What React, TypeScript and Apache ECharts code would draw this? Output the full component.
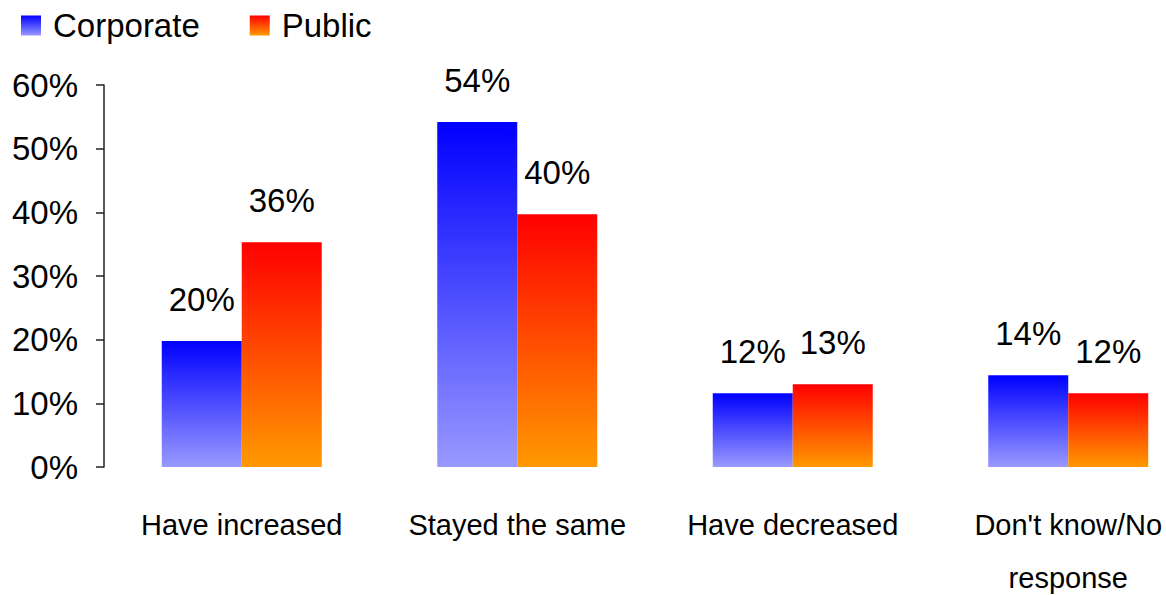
import React, { useEffect, useRef } from "react";
import * as echarts from "echarts";

const categories = ["Have increased", "Stayed the same", "Have decreased", "Don't know/No\nresponse"];
const seriesNames = ["Corporate", "Public"];
const corporateValues = [19.8, 54.2, 11.6, 14.4];
const publicValues = [35.3, 39.7, 13.0, 11.6];
const corporateLabels = ["20%", "54%", "12%", "14%"];
const publicLabels = ["36%", "40%", "13%", "12%"];
const yTicks = [0, 10, 20, 30, 40, 50, 60];

const FONT = "'Liberation Sans', Arial, Helvetica, sans-serif";

export default function App() {
  const ref = useRef<HTMLDivElement>(null);
  useEffect(() => {
    if (!ref.current) return;
    const chart = echarts.init(ref.current, undefined, { renderer: "svg" });
    const blueGrad = new echarts.graphic.LinearGradient(0, 0, 0, 1, [
      { offset: 0, color: "#0000FF" },
      { offset: 1, color: "#9999FF" },
    ]);
    const redGrad = new echarts.graphic.LinearGradient(0, 0, 0, 1, [
      { offset: 0, color: "#FF0000" },
      { offset: 1, color: "#FF9900" },
    ]);
    const labelStyle = {
      show: true,
      position: "top" as const,
      distance: 25,
      color: "#000",
      fontFamily: FONT,
      fontSize: 33,
      lineHeight: 33,
    };
    chart.setOption({
      animation: false,
      backgroundColor: "#fff",
      legend: {
        left: 21,
        top: 9,
        padding: 0,
        itemWidth: 20,
        itemHeight: 20,
        itemGap: 50,
        icon: "rect",
        data: seriesNames,
        textStyle: {
          fontFamily: FONT,
          fontSize: 33,
          lineHeight: 33,
          color: "#000",
          padding: [0, 0, 0, 7],
        },
      },
      grid: {
        left: 104,
        top: 85,
        width: 1102,
        height: 382,
        containLabel: false,
        outerBoundsMode: "none",
      },
      xAxis: {
        type: "category",
        data: categories,
        axisLine: { show: false },
        axisTick: { show: false },
        axisLabel: {
          interval: 0,
          margin: 31,
          color: "#000",
          fontFamily: FONT,
          fontSize: 29,
          lineHeight: 53,
        },
      },
      yAxis: {
        type: "value",
        min: yTicks[0],
        max: yTicks[yTicks.length - 1],
        interval: 10,
        splitLine: { show: false },
        axisLine: { show: true, lineStyle: { color: "#222", width: 1.5 } },
        axisTick: { show: true, length: 8, lineStyle: { color: "#222", width: 1.5 } },
        axisLabel: {
          margin: 26,
          color: "#000",
          fontFamily: FONT,
          fontSize: 33,
          formatter: "{value}%",
        },
      },
      series: [
        {
          name: seriesNames[0],
          type: "bar",
          data: corporateValues,
          barWidth: 80,
          barGap: "0%",
          itemStyle: { color: blueGrad },
          label: { ...labelStyle, formatter: (p: any) => corporateLabels[p.dataIndex] },
        },
        {
          name: seriesNames[1],
          type: "bar",
          data: publicValues,
          barWidth: 80,
          barGap: "0%",
          itemStyle: { color: redGrad },
          label: { ...labelStyle, formatter: (p: any) => publicLabels[p.dataIndex] },
        },
      ],
    });
    return () => chart.dispose();
  }, []);
  return (
    <div
      ref={ref}
      style={{ position: "fixed", left: 0, top: 0, width: 1166, height: 595 }}
    />
  );
}
